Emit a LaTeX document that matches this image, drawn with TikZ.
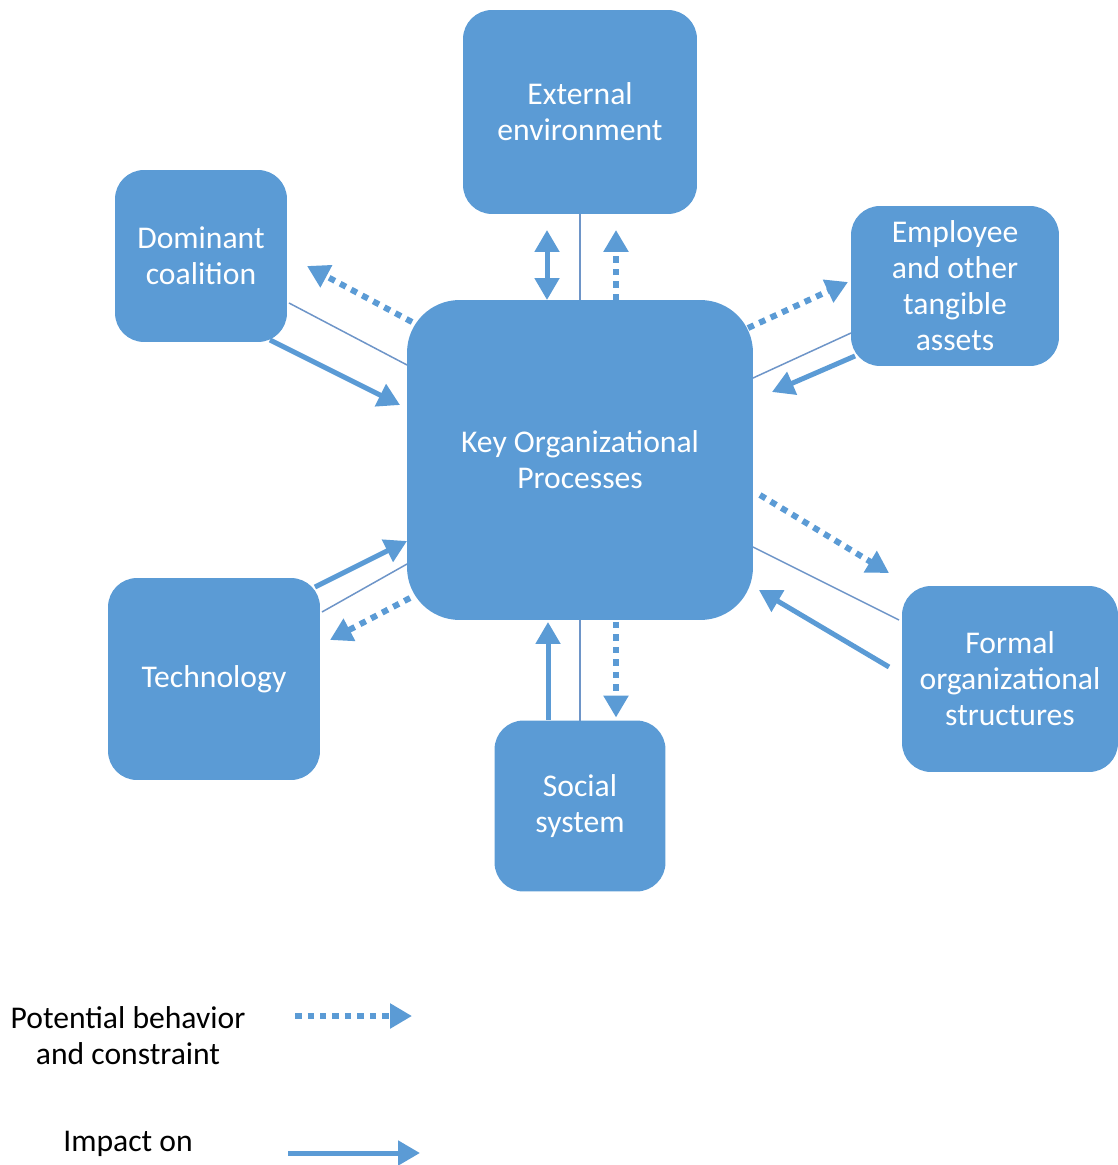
\documentclass[tikz,border=0pt]{standalone}
\usepackage{fontspec}
\setmainfont{Carlito}
\usetikzlibrary{arrows.meta,calc}
\definecolor{boxblue}{HTML}{5B9BD5}
\definecolor{linkblue}{HTML}{6E95C8}

\begin{document}
\begin{tikzpicture}[x=0.02cm,y=-0.02cm,
    box/.style={fill=boxblue,text=white,rounded corners=0.58cm,align=center,
      inner sep=0pt,outer sep=0pt,font=\fontsize{18}{20.5}\selectfont},
    impact/.style={boxblue,line width=0.1cm,-{Triangle[length=0.44cm,width=0.48cm]}},
    behave/.style={boxblue,line width=0.12cm,dash pattern=on 0.13cm off 0.12cm,
      -{Triangle[length=0.44cm,width=0.48cm]}},
    link/.style={linkblue,line width=0.03cm}]
  \useasboundingbox (0,0) rectangle (1117,1165);

  % the seven boxes
  \node[box,minimum width=6.92cm,minimum height=6.4cm,rounded corners=1.05cm]
    (key) at (580,460) {Key Organizational\\Processes};
  \node[box,minimum width=4.68cm,minimum height=4.08cm] (ext) at (580,112) {External\\environment};
  \node[box,minimum width=3.44cm,minimum height=3.44cm] (dom) at (201,256) {Dominant\\coalition};
  \node[box,minimum width=4.16cm,minimum height=3.2cm] (emp) at (955,286) {Employee\\and other\\tangible\\assets};
  \node[box,minimum width=4.24cm,minimum height=4.04cm] (tech) at (214,679) {Technology};
  \node[box,minimum width=3.42cm,minimum height=3.42cm] (soc) at (580,806) {Social\\system};
  \node[box,minimum width=4.32cm,minimum height=3.72cm] (form) at (1010,679) {Formal\\organizational\\structures};

  % external environment
  \draw[impact,{Triangle[length=0.44cm,width=0.48cm]}-{Triangle[length=0.44cm,width=0.48cm]}]
    ($(ext.south)+(-33,16)$) -- ($(key.north)+(-33,0)$);
  \draw[link] (ext.south) -- (key.north);
  \draw[behave] ($(key.north)+(36,0)$) -- ($(ext.south)+(36,16)$);

  % dominant coalition
  \draw[behave] ($(key.north west)+(5,22)$) -- ($(dom.east)+(20,10)$);
  \draw[link] ($(dom.east)+(2,47)$) -- ($(key.west)+(0,-95)$);
  \draw[impact] ($(dom.east)+(-17,84)$) -- ($(key.west)+(-7,-55)$);

  % employee and other tangible assets
  \draw[behave] ($(key.north east)+(-5,28)$) -- ($(emp.west)+(-3,-4)$);
  \draw[link] ($(key.north east)+(0,78)$) -- ($(emp.west)+(0,47)$);
  \draw[impact] ($(emp.west)+(4,70)$) -- ($(key.east)+(19,-68)$);

  % formal organizational structures
  \draw[behave] ($(key.east)+(7,35)$) -- ($(form.west)+(-13,-106)$);
  \draw[link] ($(key.east)+(0,87)$) -- ($(form.west)+(-3,-59)$);
  \draw[impact] ($(form.west)+(-13,-12)$) -- ($(key.east)+(6,130)$);

  % technology
  \draw[impact] ($(tech.east)+(-5,-92)$) -- ($(key.west)+(0,81)$);
  \draw[link] ($(tech.east)+(2,-67)$) -- ($(key.west)+(0,104)$);
  \draw[behave] ($(key.west)+(3,138)$) -- ($(tech.east)+(10,-39)$);

  % social system
  \draw[impact] ($(soc.north)+(-32,-1)$) -- ($(key.south)+(-32,2)$);
  \draw[link] (key.south) -- (soc.north);
  \draw[behave] ($(key.south)+(36,2)$) -- ($(soc.north)+(36,-3)$);

  % legend
  \node[align=center,font=\fontsize{18}{20.5}\selectfont] (lgbhv) at (128,1036)
    {Potential behavior\\and constraint};
  \node[font=\fontsize{18}{20.5}\selectfont] (lgimp) at (128,1144) {Impact on};
  \coordinate (bhvA) at (295,1016);
  \coordinate (bhvB) at (412,1016);
  \coordinate (impA) at (288,1153);
  \coordinate (impB) at (420,1153);
  \draw[behave] (bhvA) -- (bhvB);
  \draw[impact] (impA) -- (impB);
\end{tikzpicture}
\end{document}
